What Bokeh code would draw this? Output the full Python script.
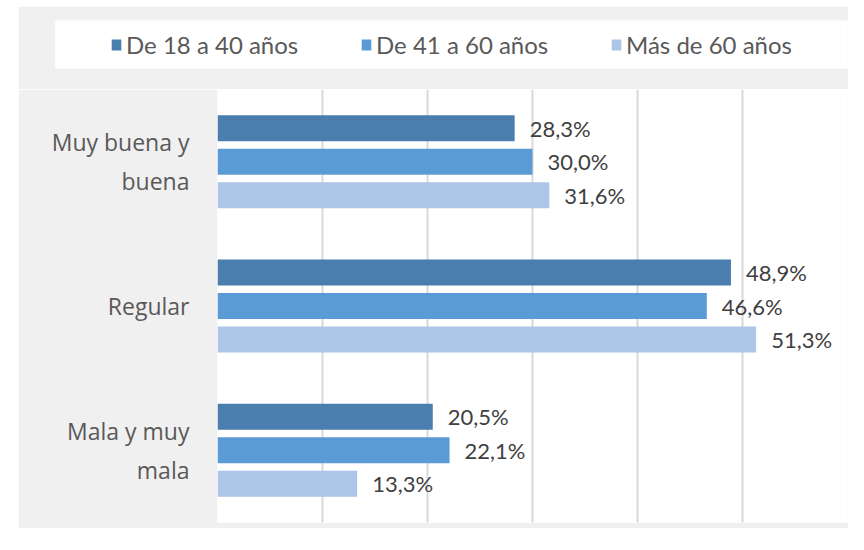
from bokeh.plotting import figure
from bokeh.models import (ColumnDataSource, Range1d, FactorRange, Legend, LegendItem,
                          SingleIntervalTicker, Spacer)
from bokeh.transform import dodge
from bokeh.core.properties import value
from bokeh.layouts import column, row
from bokeh.embed import file_html
from bokeh.resources import INLINE

# ---- data ----
categories = ["Muy buena y\nbuena", "Regular", "Mala y muy\nmala"]
series_names = ["De 18 a 40 años", "De 41 a 60 años", "Más de 60 años"]
age_18_40 = [28.3, 48.9, 20.5]
age_41_60 = [30.0, 46.6, 22.1]
age_60_plus = [31.6, 51.3, 13.3]
x_max = 60

# ---- styles ----
colors = ["#4a7eae", "#5b9bd5", "#adc5e6"]
offsets = [0.232, 0.0, -0.232]
GRAY_BG = "#f0f0f0"


def fmt(v):
    return f"{v:.1f}".replace(".", ",") + "%"


series_values = [age_18_40, age_41_60, age_60_plus]

# ---- legend strip ----
lf = figure(frame_width=792, frame_height=48, min_border_left=37, min_border_right=1,
            min_border_top=14, min_border_bottom=21, output_backend="svg",
            toolbar_location=None, x_range=Range1d(0, x_max),
            y_range=FactorRange(factors=categories[::-1]))
lf.frame_align = False
lf.axis.visible = False
lf.grid.visible = False
lf.outline_line_color = None
lf.background_fill_color = "white"
lf.border_fill_color = GRAY_BG

items = []
for name, vals, col in zip(series_names, series_values, colors):
    src = ColumnDataSource(dict(cat=categories, val=vals))
    r = lf.hbar(y="cat", right="val", height=0.2, source=src, fill_color=col, line_color=None)
    r.visible = False
    items.append(LegendItem(label=name, renderers=[r]))

legend = Legend(items=items, orientation="horizontal", location="left", margin=55,
                padding=0, spacing=30, label_width=204, label_standoff=4,
                glyph_width=12, glyph_height=14, inactive_fill_alpha=0,
                label_text_font="Lato", label_text_font_size="24px",
                label_text_color="#595959", border_line_color=None,
                background_fill_alpha=0)
lf.add_layout(legend, "center")

# ---- main chart ----
p = figure(frame_width=630, frame_height=433, min_border_left=199, min_border_right=1,
           min_border_top=0, min_border_bottom=6,
           x_range=Range1d(0, x_max), y_range=FactorRange(factors=categories[::-1]),
           output_backend="svg", toolbar_location=None)
p.frame_align = False
p.background_fill_color = "white"
p.border_fill_color = GRAY_BG
p.outline_line_color = None
p.xaxis.visible = False
p.ygrid.grid_line_color = None
p.xgrid.ticker = SingleIntervalTicker(interval=10)
p.xgrid.grid_line_color = "#d9d9d9"
p.xgrid.grid_line_width = 2

p.yaxis.axis_line_color = None
p.yaxis.major_tick_line_color = None
p.yaxis.minor_tick_line_color = None
p.yaxis.major_label_standoff = 22
p.yaxis.major_label_text_font = "Open Sans"
p.yaxis.major_label_text_font_size = "23px"
p.yaxis.major_label_text_color = "#595959"

for vals, col, off in zip(series_values, colors, offsets):
    src = ColumnDataSource(dict(cat=categories, val=vals, lab=[fmt(v) for v in vals]))
    p.hbar(y=dodge("cat", off, range=p.y_range), left=0, right="val", height=0.18,
           source=src, fill_color=col, line_color=None)
    p.text(x="val", y=dodge("cat", off, range=p.y_range), text="lab", source=src,
           x_offset=15, text_align="left", text_baseline="middle",
           text_font=value("Lato"), text_font_size="22px", text_color="#404040")

layout = column(Spacer(height=6), row(Spacer(width=18), column(lf, p, spacing=0), spacing=0), spacing=0)
open("out.html", "w").write(file_html(layout, INLINE))
